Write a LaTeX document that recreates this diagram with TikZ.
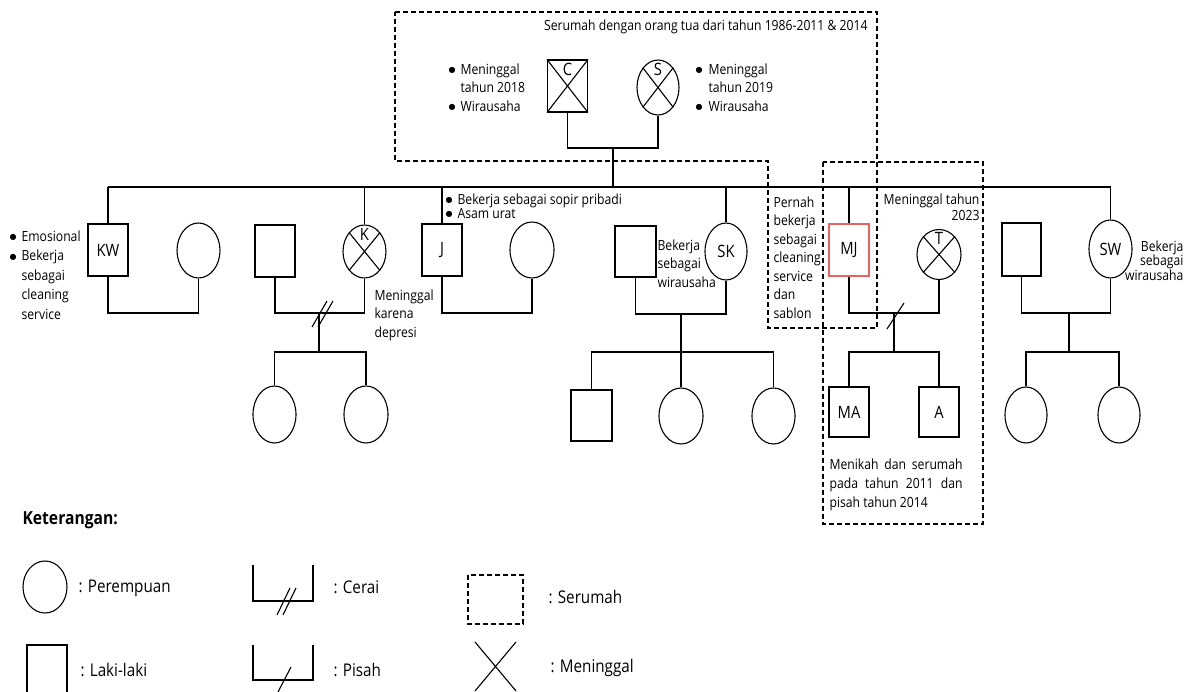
\documentclass[tikz,border=0pt]{standalone}
\usepackage{fontspec}
\setmainfont{Open Sans}[FakeStretch=0.87]
\newfontfamily\dvfont{DejaVu Sans}
\usetikzlibrary{shapes.geometric}
\definecolor{mjred}{RGB}{238,95,95}
\newcommand{\bl}[1][12pt]{\makebox[#1][l]{\raisebox{1.3pt}{\dvfont\fontsize{8}{8}\selectfont ●}}}
\newcommand{\ind}[1][12pt]{\hspace*{#1}}
\begin{document}
\begin{tikzpicture}[x=1pt,y=-1pt,line width=1.1pt,
  male/.style={draw,rectangle,minimum width=40pt,minimum height=52pt,inner sep=0pt,font=\fontsize{17}{17}\selectfont},
  female/.style={draw,ellipse,minimum width=43pt,minimum height=55pt,inner sep=0pt,font=\fontsize{17}{17}\selectfont},
  toplbl/.style={anchor=north,inner sep=3pt,font=\fontsize{17}{17}\selectfont},
  note/.style={inner sep=0pt,font=\fontsize{14}{18.5}\selectfont,align=left},
  leg/.style={inner sep=0pt,anchor=west,font=\fontsize{17.5}{20}\selectfont},
  serumah/.style={draw,dash pattern=on 5pt off 3pt,line width=1.1pt},
]
\fill[white] (0,0) rectangle (1192,692);
\useasboundingbox (0,0) rectangle (1192,692);

% ---------- coordinates for the line levels
\coordinate (par) at (613,148);
\coordinate (sib) at (0,187);
\coordinate (mar) at (0,313);
\coordinate (kid) at (0,352);

% ---------- generation 1
\node[male] (C) at (567.5,86) {};
\node[toplbl] (Cl) at (C.north) {C};
\draw (C.north west) -- (C.south east) (C.north east) -- (C.south west);
\node[female,minimum width=42pt] (S) at (658,87.5) {};
\node[toplbl] (Sl) at (S.north) {S};
\draw (S.north west) -- (S.south east) (S.north east) -- (S.south west);
\draw (C.south) -- (C.south |- par) -- (S.south |- par) -- (S.south);
\draw (par) -- (par |- sib);

% ---------- generation 2
\node[male] (KW) at (108,250) {KW};
\node[female] (KWw) at (198.5,250.5) {};
\node[male] (Kh) at (275,251) {};
\node[female,minimum height=53pt] (K) at (364.5,251.5) {};
\node[toplbl] (Kl) at (K.north) {K};
\draw (K.north west) -- (K.south east) (K.north east) -- (K.south west);
\node[male] (J) at (442,250) {J};
\node[female,minimum width=44pt,minimum height=56pt] (Jw) at (532,250) {};
\node[male,minimum width=41pt,minimum height=51pt] (SKh) at (635.5,251.5) {};
\node[female,minimum width=42pt,minimum height=57pt] (SK) at (726,251.5) {SK};
\node[male,draw=mjred] (MJ) at (849,250) {MJ};
\node[female,minimum width=44pt,minimum height=50pt] (T) at (939,254.5) {};
\node[toplbl] (Tl) at (T.north) {T};
\draw (T.north west) -- (T.south east) (T.north east) -- (T.south west);
\node[male,minimum width=39pt,minimum height=53pt] (SWh) at (1021.5,249.5) {};
\node[female,minimum height=58pt] (SW) at (1110.5,249) {SW};

% sibling line
\draw (KW.north |- sib) -- (SW.north |- sib);
\foreach \n in {KW,K,J,SK,MJ,SW} \draw (\n.north) -- (\n.north |- sib);

% marriages
\draw (KW.south) -- (KW.south |- mar) -- (KWw.south |- mar) -- (KWw.south);
\draw (Kh.south) -- (Kh.south |- mar) -- (K.south |- mar) -- (K.south);
\draw (J.south) -- (J.south |- mar) -- (Jw.south |- mar) -- (Jw.south);
\coordinate (mar2) at (0,314);
\draw (SKh.south) -- (SKh.south |- mar2) -- (SK.south |- mar2) -- (SK.south);
\draw (MJ.south) -- (MJ.south |- mar) -- (T.south |- mar) -- (T.south);
\draw (SWh.south) -- (SWh.south |- mar) -- (SW.south |- mar) -- (SW.south);

% ---------- generation 3
\node[female,minimum height=57pt] (Kc1) at (274.5,414.5) {};
\node[female,minimum width=44pt,minimum height=57pt] (Kc2) at (366,414.5) {};
\node[male,minimum width=41pt,minimum height=51pt] (SKc1) at (591.5,415.5) {};
\node[female,minimum width=44pt,minimum height=56pt] (SKc2) at (681,416) {};
\node[female,minimum height=56pt] (SKc3) at (773.5,416) {};
\node[male,minimum height=50pt] (MA) at (849,412) {MA};
\node[male,minimum height=50pt] (A) at (939,412) {A};
\node[female,minimum width=42pt,minimum height=56pt] (SWc1) at (1026,415) {};
\node[female,minimum width=42pt,minimum height=56pt] (SWc2) at (1119,415) {};

% descent lines
\coordinate (dK) at (319,313);
\coordinate (dSK) at (681,314);
\coordinate (dMJ) at (894,313);
\coordinate (dSW) at (1069,313);
\foreach \d in {dK,dSK,dMJ,dSW} \draw (\d) -- (\d |- kid);
\draw (Kc1.north) -- (Kc1.north |- kid) -- (Kc2.north |- kid) -- (Kc2.north);
\draw (SKc1.north) -- (SKc1.north |- kid) -- (SKc3.north |- kid) -- (SKc3.north);
\draw (SKc2.north) -- (SKc2.north |- kid);
\draw (MA.north) -- (MA.north |- kid) -- (A.north |- kid) -- (A.north);
\draw (SWc1.north) -- (SWc1.north |- kid) -- (SWc2.north |- kid) -- (SWc2.north);

% divorce / separation marks
\draw ([shift={(-7,14)}]dK) -- ([shift={(8,-12)}]dK);
\draw ([shift={(-1,14)}]dK) -- ([shift={(14,-12)}]dK);
\draw ([shift={(-7,16)}]dMJ) -- ([shift={(10,-10)}]dMJ);

% ---------- dashed household outlines
\draw[serumah] (395,12) -- (877,12) -- (877,328) -- (768,328) -- (768,161) -- (395,161) -- cycle;
\draw[serumah] (823,162) rectangle (983,524);

% ---------- notes
\node[note,anchor=east] (title) at (868,27) {Serumah dengan orang tua dari tahun 1986-2011 \& 2014};
\node[note,anchor=north west] (nC) at (448,63) {\bl Meninggal\\\ind tahun 2018\\\bl Wirausaha};
\node[note,anchor=north west] (nS) at (695,63) {\bl[13pt]Meninggal\\\ind[13pt]tahun 2019\\\bl[13pt]Wirausaha};
\node[note,anchor=north west,font=\fontsize{14}{19.5}\selectfont] (nKW) at (9,230) {\bl Emosional\\\bl Bekerja\\\ind sebagai\\\ind cleaning\\\ind service};
\node[note,anchor=north west] (nK) at (374,289) {Meninggal\\karena\\depresi};
\node[note,anchor=north west,font=\fontsize{14}{14}\selectfont] (nJ) at (445,193) {\bl Bekerja sebagai sopir pribadi\\\bl Asam urat};
\node[note,anchor=north west] (nSK) at (657,239) {Bekerja\\sebagai\\wirausaha};
\node[note,anchor=north west] (nMJ) at (773,196) {Pernah\\bekerja\\sebagai\\cleaning\\service\\dan\\sablon};
\node[note,anchor=north east,align=right,font=\fontsize{14}{16}\selectfont] (nT) at (980,193) {Meninggal tahun\\2023};
\node[note,anchor=north east,align=right,font=\fontsize{14}{14.5}\selectfont] (nSW) at (1184,240) {Bekerja\\sebagai\\wirausaha};
\node[note,anchor=north west,font=\fontsize{14}{19}\selectfont] (nMA) at (829,458) {\makebox[133pt][s]{Menikah dan serumah}\\\makebox[133pt][s]{pada tahun 2011 dan}\\pisah tahun 2014};

% ---------- legend
\node[inner sep=0pt,anchor=west,font=\bfseries\fontsize{18}{20}\selectfont] (ket) at (22,520) {Keterangan:};
\node[female,minimum width=44pt,minimum height=52pt] (lgF) at (45,587) {};
\node[leg] (lgFt) at (78,588) {: Perempuan};
\draw (27,692) -- (27,645) -- (67,645) -- (67,692);
\node[leg] (lgMt) at (80,670) {: Laki-laki};
\draw (253,565) -- (253,601) -- (313,601) -- (313,565);
\draw (277,615) -- (290,588) (283,615) -- (296,588);
\node[leg] (lgCt) at (333,587) {: Cerai};
\draw (253,645) -- (253,680) -- (313,680) -- (313,645);
\draw (278,692) -- (291,667);
\node[leg] (lgPt) at (333,670) {: Pisah};
\draw[serumah] (468,575) rectangle (523,624);
\node[leg] (lgSt) at (548,597) {: Serumah};
\draw (475,642) -- (516,691) (516,642) -- (475,691);
\node[leg] (lgDt) at (550,668) {: Meninggal};
\end{tikzpicture}
\end{document}
